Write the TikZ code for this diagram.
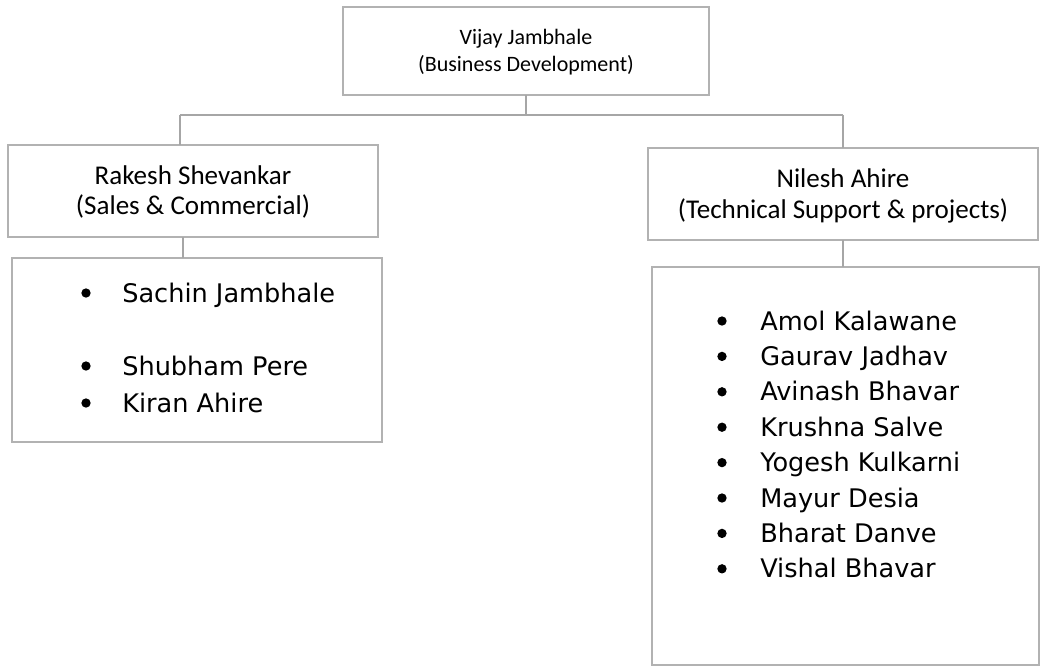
\documentclass[tikz,border=0pt]{standalone}
\usepackage{fontspec}
\setmainfont{Carlito}
\newfontfamily\listfont{DejaVu Sans}
\begin{document}
\begin{tikzpicture}[x=0.75pt,y=-0.75pt,
  box/.style={draw=gray!60, line width=1.4pt, inner sep=0pt},
  link/.style={draw=gray!70, line width=0.8pt},
  head/.style={align=center, font=\fontsize{16.5}{20.5}\selectfont},
  headb/.style={align=center, font=\fontsize{20.3}{23}\selectfont},
  item/.style={anchor=base west, inner sep=0pt, font=\listfont\fontsize{19.2}{23}\selectfont},
  dot/.style={circle, fill=black, inner sep=0pt, minimum size=7pt}]
\fill[white] (0,0) rectangle (1040,669);
\useasboundingbox (0,0) rectangle (1040,669);

% boxes
\draw[box] (343,7) rectangle (709,95);
\draw[box] (8,145) rectangle (378,237);
\draw[box] (648,148) rectangle (1038,240);
\draw[box] (12,258) rectangle (382,442);
\draw[box] (652,267) rectangle (1039,665);

\node[head] (top) at (526,52) {Vijay Jambhale\\(Business Development)};
\node[headb] (rs) at (193,192) {Rakesh Shevankar\\(Sales \& Commercial)};
\node[headb] (na) at (843,196) {Nilesh Ahire\\(Technical Support \& projects)};

\coordinate (topS) at (526,95);
\coordinate (busL) at (180,115);
\coordinate (busR) at (843,115);
\coordinate (rsN) at (180,145);
\coordinate (naN) at (843,148);
\coordinate (rsS) at (183,237);
\coordinate (lsN) at (183,258);
\coordinate (naS) at (843,240);
\coordinate (rlN) at (843,267);

\draw[link] (topS) -- (topS |- busL);
\draw[link] (busL) -- (busR);
\draw[link] (busL) -- (rsN);
\draw[link] (busR) -- (naN);
\draw[link] (rsS) -- (lsN);
\draw[link] (naS) -- (rlN);

% left list
\node[dot] (b1) at (86,293) {};
\node[item] (i1) at (122,302) {Sachin Jambhale};
\node[dot] (b2) at (86,366) {};
\node[item] (i2) at (122,375) {Shubham Pere};
\node[dot] (b3) at (86,403) {};
\node[item] (i3) at (122,412) {Kiran Ahire};

% right list
\foreach \t [count=\k from 0] in {Amol Kalawane,Gaurav Jadhav,Avinash Bhavar,Krushna Salve,Yogesh Kulkarni,Mayur Desia,Bharat Danve,Vishal Bhavar}{
  \node[dot] (rb\k) at (722,321+35.4*\k) {};
  \node[item] (ri\k) at (760,330+35.4*\k) {\t};
}
\end{tikzpicture}
\end{document}
